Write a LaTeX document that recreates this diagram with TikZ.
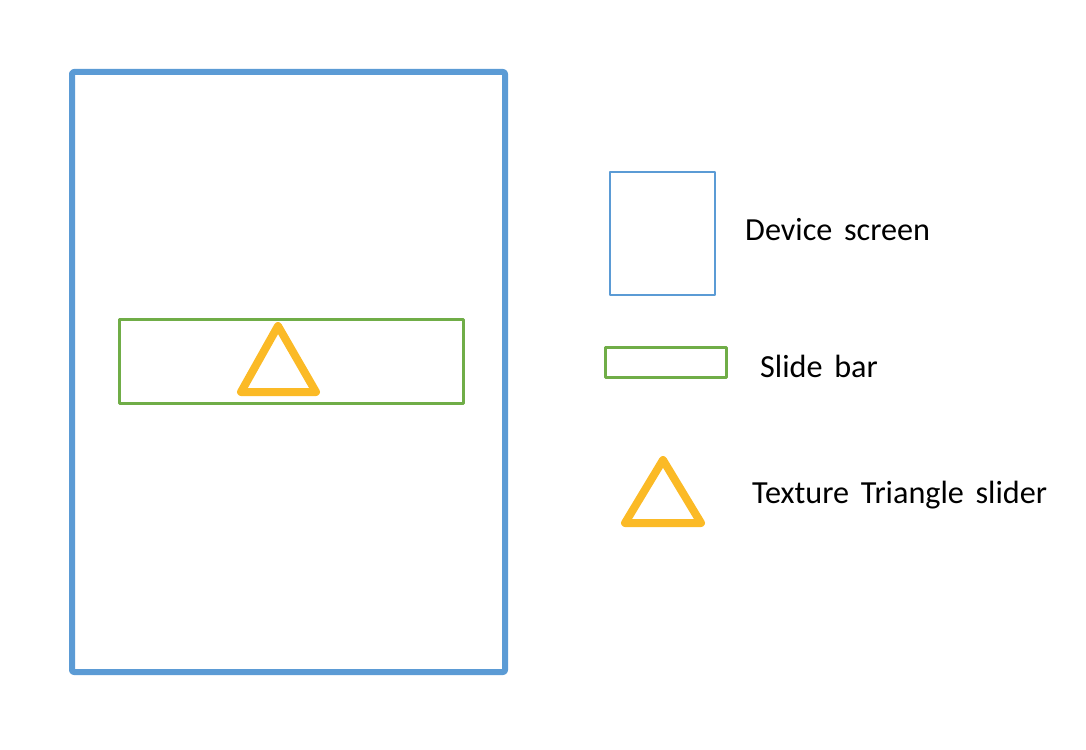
\documentclass[tikz,border=0pt]{standalone}
\usepackage{fontspec}
\setmainfont{Carlito}[WordSpace=1.6]
\usepackage{tikz}
\definecolor{scrblue}{HTML}{5B9BD5}
\definecolor{bargreen}{HTML}{70AD47}
\definecolor{trigold}{HTML}{FBBA26}
\tikzset{
  every picture/.style={line join=round, line cap=round},
  screen/.style={draw=scrblue},
  bar/.style={draw=bargreen},
  slider/.style={draw=trigold, line width=8pt},
  legend/.style={anchor=base west, inner sep=0pt, font=\fontsize{32.2}{36}\selectfont},
}

\begin{document}
\begin{tikzpicture}[x=1pt,y=-1pt]
\useasboundingbox (0,0) rectangle (1086,749);
\draw[screen,line width=6pt,rounded corners=2pt](72,72)rectangle(505,672);
\draw[bar,line width=3pt](119,319)rectangle(463,403);
\draw[slider](278,326)--(316,392)--(241,392)--cycle;
\draw[screen,line width=2pt](610,172)rectangle(715,295);
\draw[bar,line width=3pt](605,347)rectangle(726,377);
\draw[slider](663,460)--(701,523)--(625,523)--cycle;
\node[legend] (lscreen) at (745,240) {Device screen};
\node[legend] (lbar) at (760,377) {Slide bar};
\node[legend] (lslider) at (752,503) {Texture Triangle slider};
\end{tikzpicture}
\end{document}
